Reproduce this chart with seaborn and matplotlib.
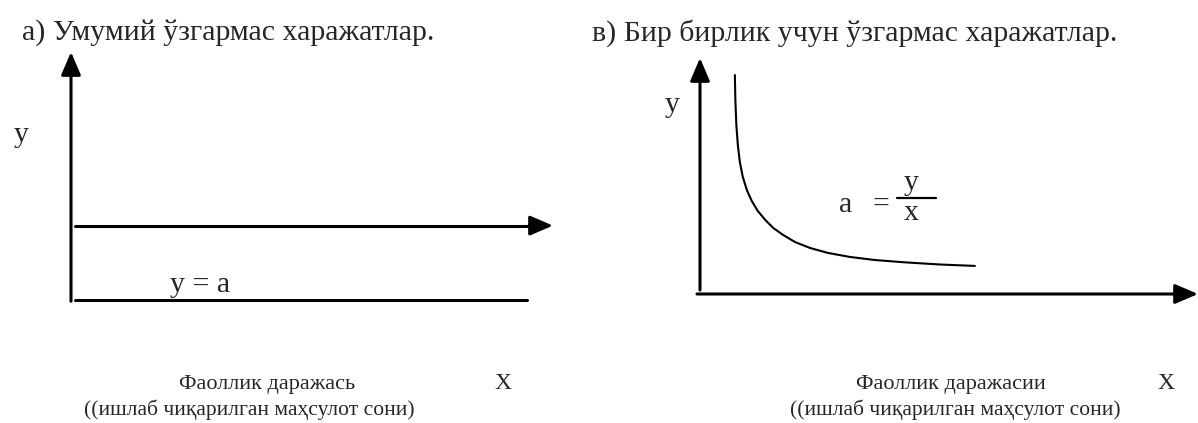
import matplotlib
matplotlib.use("Agg")
import matplotlib.pyplot as plt
import seaborn as sns

# data: schematic values (axes run 0..10 in each panel)
total_x = [0.08, 9.75]          # activity level, panel a)
total_cost = [3.0, 3.0]         # fixed cost stays flat
base_x = [0.08, 9.46]           # bottom line in panel a)
base_y = [0.0, 0.0]

unit_x = [0.70, 0.71, 0.73, 0.76, 0.80, 0.86, 0.94, 1.04, 1.16, 1.31,
          1.47, 1.67, 1.91, 2.21, 2.57, 3.01, 3.51, 4.12, 4.82, 5.52]
unit_cost = [9.28, 8.22, 7.16, 6.31, 5.59, 4.96, 4.41, 3.94, 3.52, 3.14,
             2.80, 2.50, 2.20, 1.95, 1.74, 1.57, 1.44, 1.34, 1.25, 1.19]

titles = ["а) Умумий ўзгармас харажатлар.", "в) Бир бирлик учун ўзгармас харажатлар."]
xlabels = ["Фаоллик даражась", "Фаоллик даражасии"]
xsub = "((ишлаб чиқарилган маҳсулот сони)"

sns.set_style("white")
plt.rcParams['font.family'] = ['Liberation Serif', 'DejaVu Serif']

W, H = 1198, 423
fig = plt.figure(figsize=(W / 100, H / 100), dpi=100)

def px_axes(x0, y_top, x1, y_bot):
    return fig.add_axes([x0 / W, 1 - y_bot / H, (x1 - x0) / W, (y_bot - y_top) / H])

head = dict(arrowstyle='-|>,head_length=0.7,head_width=0.3', color='black',
            lw=2.2, mutation_scale=20, shrinkA=0, shrinkB=0)

# ---- panel a) total fixed costs
ax1 = px_axes(71, 52, 553, 300)
ax1.set_xlim(0, 10)
ax1.set_ylim(0, 10)
ax1.axis('off')
ax1.annotate("", xy=(0, 10), xytext=(0, -0.05), arrowprops=head, annotation_clip=False)
sns.lineplot(x=total_x, y=total_cost, ax=ax1, color='black', linewidth=2.2)
ax1.annotate("", xy=(10, total_cost[0]), xytext=(9.5, total_cost[0]), arrowprops=head, annotation_clip=False)
sns.lineplot(x=base_x, y=base_y, ax=ax1, color='black', linewidth=2.2, clip_on=False)

# ---- panel b) fixed costs per unit
ax2 = px_axes(700, 58, 1198, 294)
ax2.set_xlim(0, 10)
ax2.set_ylim(0, 10)
ax2.axis('off')
ax2.annotate("", xy=(0, 10), xytext=(0, 0.17), arrowprops=head, annotation_clip=False)
ax2.annotate("", xy=(10, 0), xytext=(-0.06, 0), arrowprops=head, annotation_clip=False)
sns.lineplot(x=unit_x, y=unit_cost, ax=ax2, color='black', linewidth=1.5, sort=False)

# ---- texts
def ftext(x, y, s, **kw):
    fig.text(x / W, 1 - y / H, s, **kw)

ftext(22, 33, titles[0], fontsize=21.5, va='center', ha='left')
ftext(592, 33, titles[1], fontsize=21.5, va='center', ha='left')

ftext(21, 135, "y", fontsize=21.5, va='center', ha='center')
ftext(672, 105, "y", fontsize=21.5, va='center', ha='center')

ftext(200, 285, "y = a", fontsize=21.5, va='center', ha='center')

ftext(846, 205, "a", fontsize=21.5, va='center', ha='center')
ftext(881, 205, "=", fontsize=21.5, va='center', ha='center')
ftext(911, 183, "y", fontsize=21.5, va='center', ha='center')
ftext(911, 213, "x", fontsize=21.5, va='center', ha='center')
fig.add_artist(plt.Line2D([897 / W, 936 / W], [1 - 198 / H, 1 - 198 / H], color='black', lw=1.6))

ftext(267, 384, xlabels[0], fontsize=16, va='center', ha='center')
ftext(249, 410, xsub, fontsize=15.5, va='center', ha='center')
ftext(503, 383, "X", fontsize=17, va='center', ha='center')

ftext(951, 384, xlabels[1], fontsize=16, va='center', ha='center')
ftext(955, 410, xsub, fontsize=15.5, va='center', ha='center')
ftext(1166, 383, "X", fontsize=17, va='center', ha='center')

fig.savefig("out.png", dpi=100, facecolor='white')
